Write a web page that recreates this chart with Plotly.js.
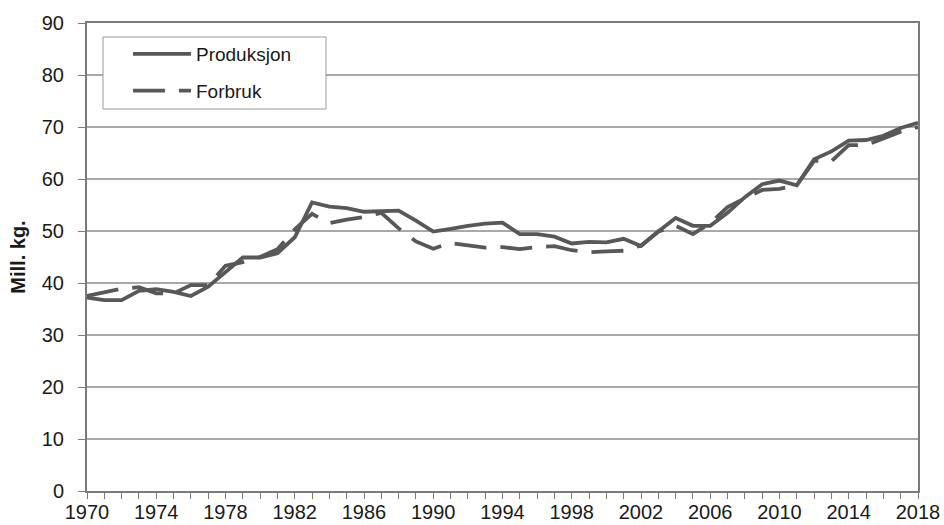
<!DOCTYPE html>
<html>
<head>
<meta charset="utf-8">
<script src="https://cdn.plot.ly/plotly-3.0.1.min.js"></script>
<style>html,body{margin:0;padding:0;background:#fff;}#chart{width:944px;height:525px;}</style>
</head>
<body>
<div id="chart"></div>
<script>
const years = [1970,1971,1972,1973,1974,1975,1976,1977,1978,1979,1980,1981,1982,1983,1984,1985,1986,1987,1988,1989,1990,1991,1992,1993,1994,1995,1996,1997,1998,1999,2000,2001,2002,2003,2004,2005,2006,2007,2008,2009,2010,2011,2012,2013,2014,2015,2016,2017,2018];
const produksjon = [37.2,36.7,36.7,38.5,38.8,38.3,37.5,39.3,42.1,44.9,44.9,45.7,48.8,55.5,54.7,54.4,53.7,53.8,53.9,52.0,49.9,50.4,51.0,51.4,51.6,49.4,49.4,48.9,47.6,47.9,47.8,48.5,47.1,49.9,52.5,51.0,51.0,53.5,56.5,59.0,59.7,58.8,63.8,65.3,67.4,67.5,68.3,69.8,70.8];
const forbruk = [37.5,38.2,38.9,39.2,38.0,38.0,39.6,39.6,43.3,44.0,45.0,46.5,50.3,53.3,51.5,52.2,52.7,53.5,50.5,48.0,46.6,47.7,47.2,46.8,46.9,46.5,46.9,47.1,46.3,45.9,46.1,46.2,47.2,49.9,51.0,49.4,51.5,54.6,56.3,57.9,58.1,58.8,63.5,63.4,66.5,66.5,67.8,69.1,70.0];
const seriesNames = ["Produksjon","Forbruk"];
const xTickVals = [1970,1974,1978,1982,1986,1990,1994,1998,2002,2006,2010,2014,2018];
const yTickVals = [0,10,20,30,40,50,60,70,80,90];

const lineColor = "#585858";
const traces = [
  {x: years, y: produksjon, name: seriesNames[0], type: "scatter", mode: "lines", legendgroup: "a",
   line: {color: lineColor, width: 3.8}},
  {x: years, y: forbruk, name: seriesNames[1], type: "scatter", mode: "lines", legendgroup: "b",
   line: {color: lineColor, width: 3.8, dash: "32px,14px"}}
];

const layout = {
  width: 944, height: 525,
  margin: {l: 87, r: 26, t: 23, b: 34, pad: 0},
  paper_bgcolor: "#ffffff", plot_bgcolor: "#ffffff",
  font: {family: "Liberation Sans, Arial, sans-serif", color: "#1a1a1a", size: 19},
  showlegend: true,
  legend: {
    x: 0.0493, y: 0.9744, xanchor: "left", yanchor: "top",
    bgcolor: "rgba(0,0,0,0)", borderwidth: 0,
    font: {size: 19, color: "#1a1a1a"},
    itemwidth: 58, tracegroupgap: 9
  },
  shapes: [
    {type: "rect", xref: "paper", yref: "paper", x0: 0.01925, x1: 0.2876, y0: 0.8162, y1: 0.9701,
     fillcolor: "#ffffff", line: {color: "#9a9a9a", width: 1}, layer: "above"}
  ],
  xaxis: {
    range: [1970, 2018], tickvals: xTickVals, ticktext: xTickVals.map(String),
    showgrid: false, zeroline: false,
    showline: true, linecolor: "#7a7a7a", linewidth: 2, mirror: true,
    ticks: "outside", ticklen: 6, tickcolor: "#7a7a7a", tickwidth: 1,
    minor: {dtick: 1, tick0: 1970, ticks: "outside", ticklen: 6, tickcolor: "#7a7a7a", tickwidth: 1, showgrid: false},
    tickfont: {size: 20, color: "#1a1a1a"}, ticklabelstandoff: -4
  },
  yaxis: {
    range: [0, 90], tickvals: yTickVals,
    showgrid: true, gridcolor: "#a8a8a8", gridwidth: 1.5, zeroline: false,
    showline: true, linecolor: "#7a7a7a", linewidth: 2, mirror: true,
    ticks: "outside", ticklen: 7, tickcolor: "#7a7a7a", tickwidth: 1,
    tickfont: {size: 20, color: "#1a1a1a"}, ticklabelstandoff: 10,
    title: {text: "<b>Mill. kg.</b>", font: {size: 20, color: "#1a1a1a"}, standoff: 11}
  }
};

Plotly.newPlot("chart", traces, layout, {displayModeBar: false, staticPlot: true});
</script>
</body>
</html>
